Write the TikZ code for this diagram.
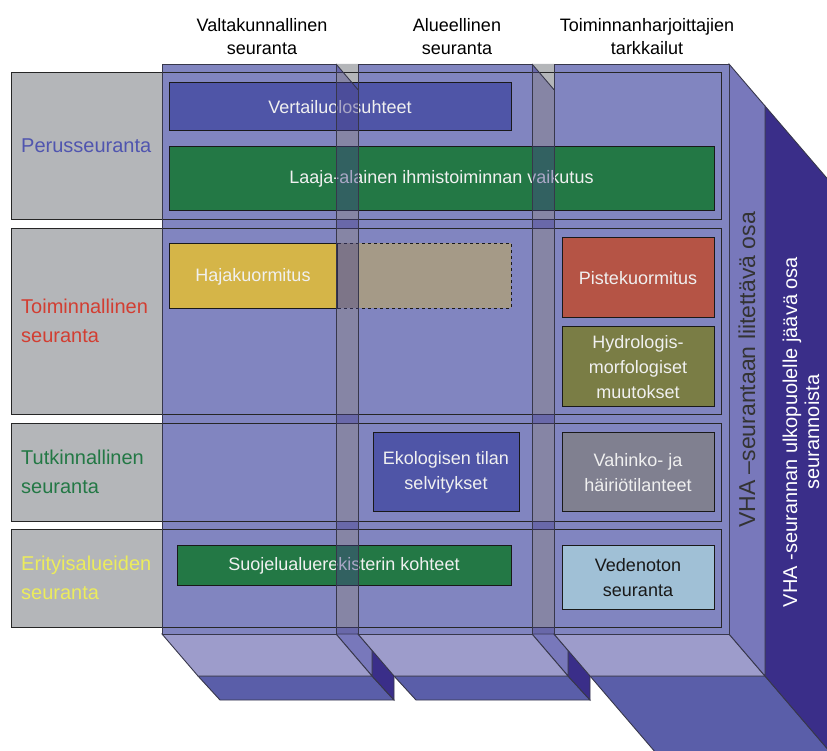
\documentclass[tikz,border=0pt]{standalone}
\usepackage{fontspec}
\setmainfont{Liberation Sans}
\usepackage{xcolor}
\usepackage{tikz}

\definecolor{rowgray}{RGB}{180,182,185}
\definecolor{colfront}{RGB}{129,133,192}
\definecolor{colside}{RGB}{120,120,187}
\definecolor{colbot}{RGB}{157,156,203}
\definecolor{backbot}{RGB}{90,94,169}
\definecolor{backside}{RGB}{58,46,137}
\definecolor{stripshade}{RGB}{72,66,138}
\definecolor{edgegray}{RGB}{55,55,75}
\definecolor{boxblue}{RGB}{79,85,167}
\definecolor{boxgreen}{RGB}{35,120,69}
\definecolor{boxyellow}{RGB}{213,181,72}
\definecolor{boxtan}{RGB}{165,154,135}
\definecolor{boxred}{RGB}{181,84,69}
\definecolor{boxolive}{RGB}{122,125,69}
\definecolor{boxgray}{RGB}{128,128,144}
\definecolor{boxlight}{RGB}{160,192,214}
\definecolor{labblue}{RGB}{80,85,175}
\definecolor{labred}{RGB}{210,62,50}
\definecolor{labgreen}{RGB}{35,120,69}
\definecolor{labyellow}{RGB}{236,236,92}

\tikzset{
  edge/.style={draw=edgegray,line width=0.9pt},
  rowline/.style={draw=black!85,line width=0.9pt},
  boxline/.style={draw=black!90,line width=0.9pt},
  head/.style={align=center,inner sep=0pt,font=\fontsize{18}{23}\selectfont},
  rowlabel/.style={anchor=west,align=left,inner sep=0pt,font=\fontsize{20}{29}\selectfont},
  boxtext/.style={align=center,inner sep=0pt,text=white!94!black,font=\fontsize{18}{25}\selectfont},
}

% back slab behind a column (left x, right x of the column front)
\newcommand{\slab}[2]{
\draw[edge,fill=backbot] (#1+36,676)--(#2+36,676)--(#2+58,700)--(#1+58,700)--cycle;
\draw[edge,fill=backside] (#2+36,106)--(#2+58,130)--(#2+58,700)--(#2+36,676)--cycle;
}
% bottom face and lower side face of a column
\newcommand{\colbase}[2]{
\draw[edge,fill=colside] (#2,634)--(#2+22,634)--(#2+36,650.3)--(#2+36,676)--cycle;
\draw[edge,fill=colbot] (#1,634)--(#2,634)--(#2+36,676)--(#1+36,676)--cycle;
}
% row band
\newcommand{\band}[2]{
\fill[rowgray] (11,#1) rectangle (721,#2);
}
\newcommand{\bandline}[2]{
\draw[rowline] (11,#1) rectangle (721,#2);
}
% coloured box with its text
\newcommand{\cell}[7]{
\draw[boxline,fill=#6] (#2,#3) rectangle (#4,#5);
\node[boxtext] (#1) at ({(#2+#4)/2},{(#3+#5)/2+1}) {#7};
}

\begin{document}
\begin{tikzpicture}[x=1pt,y=-1pt]

\useasboundingbox (0,0) rectangle (827,751);
\clip (0,0) rectangle (827,751);

% slabs at the back
\draw[edge,fill=backbot] (590,676)--(765,676)--(945,886)--(770,886)--cycle;
\draw[edge,fill=backside] (765,106)--(945,316)--(945,886)--(765,676)--cycle;
\slab{162}{336}
\slab{358}{532}

% what shows through the gaps
\fill[colfront] (336,64) rectangle (358,634);
\fill[colfront] (532,64) rectangle (554,634);

\band{72}{219}
\band{228}{414}
\band{423}{521}
\band{529}{627}

% columns
\colbase{162}{336}
\colbase{358}{532}
\draw[edge,fill=colbot] (554,634)--(729,634)--(765,676)--(590,676)--cycle;
\draw[edge,fill=colside] (729,64)--(765,106)--(765,676)--(729,634)--cycle;
\fill[colfront] (162,64) rectangle (336,634);
\fill[colfront] (358,64) rectangle (532,634);
\fill[colfront] (554,64) rectangle (729,634);
\fill[rowgray] (336,64)--(358,64)--(358,89.7)--cycle;
\fill[rowgray] (532,64)--(554,64)--(554,89.7)--cycle;

\bandline{72}{219}
\bandline{228}{414}
\bandline{423}{521}
\bandline{529}{627}

% boxes
\cell{vert}{169}{82}{511}{130}{boxblue}{Vertailuolosuhteet}
\cell{laaja}{169}{146}{714}{210}{boxgreen}{Laaja-alainen ihmistoiminnan vaikutus}
\draw[boxline,dashed,fill=boxtan] (337,243) rectangle (511,308);
\cell{haja}{169}{243}{337}{308}{boxyellow}{Hajakuormitus}
\cell{piste}{562}{237}{714}{317}{boxred}{Pistekuormitus}
\cell{hydro}{562}{326}{714}{406}{boxolive}{Hydrologis-\\morfologiset\\muutokset}
\cell{ekol}{373}{432}{519}{511}{boxblue}{Ekologisen tilan\\selvitykset}
\cell{vahinko}{562}{432}{714}{511}{boxgray}{Vahinko- ja\\häiriötilanteet}
\cell{suoj}{177}{545}{511}{585}{boxgreen}{Suojelualuerekisterin kohteet}
\cell{veden}{562}{545}{714}{609}{boxlight}{\textcolor{black!90}{Vedenoton}\\\textcolor{black!90}{seuranta}}

% side strips between the columns
\fill[stripshade,opacity=0.42] (336,64)--(358,89.7)--(358,634)--(336,634)--cycle;
\fill[stripshade,opacity=0.42] (532,64)--(554,89.7)--(554,634)--(532,634)--cycle;
\draw[edge] (336,64)--(358,89.7);
\draw[edge] (532,64)--(554,89.7);
\draw[edge] (162,64) rectangle (336,634);
\draw[edge] (358,64) rectangle (532,634);
\draw[edge] (554,64) rectangle (729,634);

% texts
\node[head] (hnat) at (262,36.5) {Valtakunnallinen\\seuranta};
\node[head] (hreg) at (457,36.5) {Alueellinen\\seuranta};
\node[head] (hop) at (647,36.5) {Toiminnanharjoittajien\\tarkkailut};

\node[rowlabel,text=labblue] (lperus) at (21,146) {Perusseuranta};
\node[rowlabel,text=labred] (ltoim) at (21,321) {Toiminnallinen\\seuranta};
\node[rowlabel,text=labgreen] (ltutk) at (21,472) {Tutkinnallinen\\seuranta};
\node[rowlabel,text=labyellow] (leri) at (21,578) {Erityisalueiden\\seuranta};

\node[rotate=90,inner sep=0pt,text=black!80,font=\fontsize{23}{28}\selectfont] (vhain) at (747,370) {VHA –seurantaan liitettävä osa};
\node[rotate=90,align=center,inner sep=0pt,text=white,font=\fontsize{20}{22}\selectfont] (vhaout) at (801,432) {VHA -seurannan ulkopuolelle jäävä osa\\seurannoista};

\end{tikzpicture}
\end{document}
